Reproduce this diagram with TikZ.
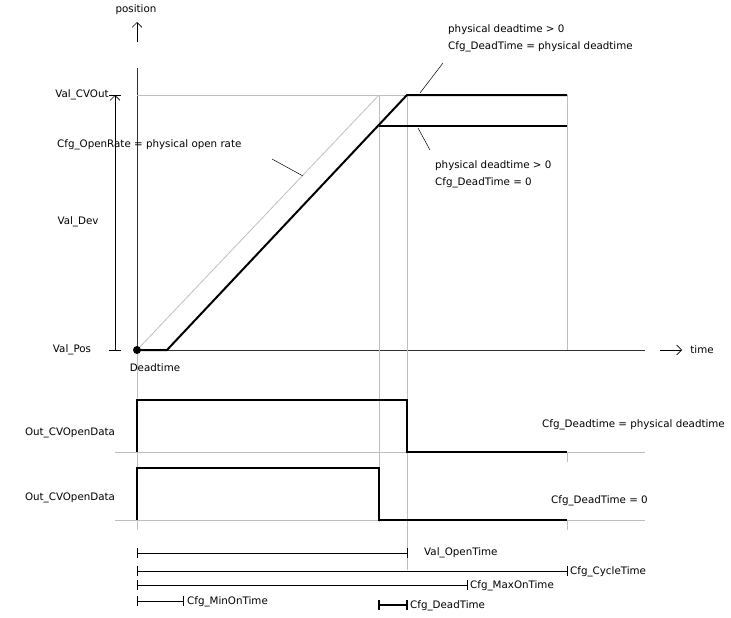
\documentclass[tikz,border=0pt]{standalone}
\usepackage{fontspec}
\setmainfont{DejaVu Sans}
\usetikzlibrary{arrows.meta}
\begin{document}
\begin{tikzpicture}[x=1pt,y=-1pt,font=\fontsize{10.3}{12}\selectfont,
 thk/.style={line width=2pt,line join=miter},
 gr/.style={draw=black!25,line width=0.8pt},
 ax/.style={draw=black!80,line width=0.8pt},
 lbl/.style={inner sep=0pt},
 bar/.style={-{Straight Barb[length=5pt,width=10pt]},line width=0.6pt},
 dim/.style={line width=0.6pt}]
\useasboundingbox (0,0) rectangle (731,618);
% axes
\coordinate (o) at (137,350);
\coordinate (yt) at (137,68);
\coordinate (xe) at (645,350);
\draw[ax] (o) -- (yt);
\draw[ax] (o) -- (xe);
\coordinate (ya1) at (137,42); \coordinate (ya2) at (137,22);
\draw[bar] (ya1) -- (ya2);
\coordinate (xa1) at (660,350); \coordinate (xa2) at (682,350);
\draw[bar] (xa1) -- (xa2);
\node[lbl] (pos) at (136,10) {position};
\node[lbl] (tm) at (702,350) {time};
% gray guides
\draw[gr] (137,95) -- (567,95);
\draw[gr] (o) -- (379,95);
\draw[gr] (379,95) -- (379,522);
\draw[gr] (407,95) -- (407,570);
\draw[gr] (567,95) -- (567,350);
\draw[gr] (567,452) -- (567,462);
\draw[gr] (567,520) -- (567,530);
\draw[gr] (137,350) -- (137,530);
\draw[gr] (115,452) -- (645,452);
\draw[gr] (115,520) -- (645,520);
% curves
\draw[thk] (o) -- (167,350) -- (407,95) -- (567,95);
\draw[thk] (379,126) -- (567,126);
\fill (o) circle (4);
% dimension Val_Dev
\coordinate (d0) at (115,350); \coordinate (d1) at (115,95);
\draw[bar] (d0) -- (d1);
\draw[line width=0.6pt] (109,95) -- (121,95);
\draw[line width=0.6pt] (109,350) -- (121,350);
\node[lbl] (cvout) at (82,95) {Val\_CVOut};
\node[lbl] (vdev) at (78,222) {Val\_Dev};
\node[lbl] (vpos) at (72,350) {Val\_Pos};
\node[lbl] (dt) at (155,368) {Deadtime};
% annotations
\node[lbl,anchor=west] (rate) at (57,145) {Cfg\_OpenRate = physical open rate};
\coordinate (r1) at (272,159); \coordinate (r2) at (303,176);
\draw[line width=0.5pt] (r1) -- (r2);
\node[lbl,anchor=west] (pd1) at (448,30) {physical deadtime > 0};
\node[lbl,anchor=west] (cd1) at (448,47) {Cfg\_DeadTime = physical deadtime};
\coordinate (t1) at (443,63); \coordinate (t2) at (420,93);
\draw[line width=0.5pt] (t1) -- (t2);
\node[lbl,anchor=west] (pd2) at (435,166) {physical deadtime > 0};
\node[lbl,anchor=west] (cd2) at (435,183) {Cfg\_DeadTime = 0};
\coordinate (b1) at (418,128); \coordinate (b2) at (430,150);
\draw[line width=0.5pt] (b1) -- (b2);
% signals
\draw[thk] (137,452) -- (137,400) -- (407,400) -- (407,452) -- (567,452);
\draw[thk] (137,520) -- (137,468) -- (379,468) -- (379,520) -- (567,520);
\node[lbl] (s1) at (70,433) {Out\_CVOpenData};
\node[lbl] (s2) at (70,498) {Out\_CVOpenData};
\node[lbl,anchor=east] (c1) at (725,425) {Cfg\_Deadtime = physical deadtime};
\node[lbl,anchor=east] (c2) at (648,501) {Cfg\_DeadTime = 0};
% time dimensions
\draw[dim] (137,548) -- (137,558) (137,553) -- (407,553) (407,548) -- (407,558);
\node[lbl,anchor=west] (vot) at (424,553) {Val\_OpenTime};
\draw[dim] (137,566) -- (137,576) (137,571) -- (567,571) (567,566) -- (567,576);
\node[lbl,anchor=west] (cct) at (570,572) {Cfg\_CycleTime};
\draw[dim] (137,580) -- (137,590) (137,585) -- (467,585) (467,580) -- (467,590);
\node[lbl,anchor=west] (cmx) at (470,586) {Cfg\_MaxOnTime};
\draw[dim] (137,596) -- (137,606) (137,601) -- (183,601) (183,596) -- (183,606);
\node[lbl,anchor=west] (cmn) at (187,602) {Cfg\_MinOnTime};
\draw[line width=1.2pt] (379,600) -- (379,610) (379,605) -- (407,605) (407,600) -- (407,610);
\node[lbl,anchor=west] (cdt) at (410,606) {Cfg\_DeadTime};
\end{tikzpicture}
\end{document}
